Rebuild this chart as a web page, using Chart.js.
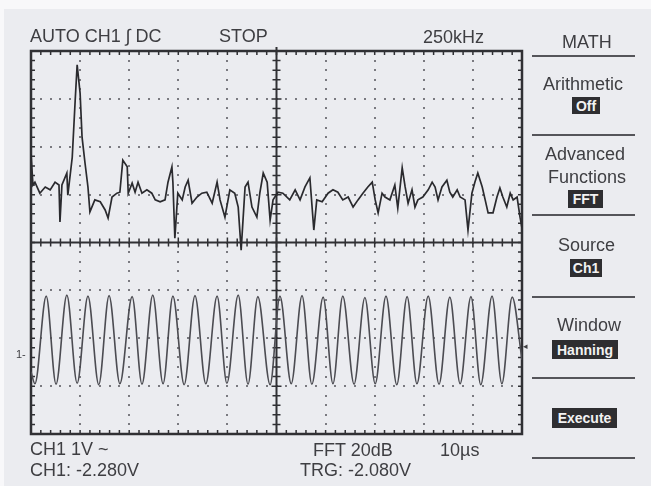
<!DOCTYPE html>
<html>
<head>
<meta charset="utf-8">
<script src="https://cdn.jsdelivr.net/npm/chart.js@4.4.1/dist/chart.umd.min.js"></script>
<style>
  html, body { margin: 0; padding: 0; background: #f8f8fa; overflow: hidden; }
  #screen { position: absolute; left: 4px; top: 9px; width: 647px; height: 477px; background: #ebecf0; }
  #scope { position: absolute; left: 0; top: 0; }
  .t {
    position: absolute; white-space: nowrap; line-height: 1;
    font-family: "Liberation Sans", "DejaVu Sans", sans-serif;
    color: #3e3e42; transform-origin: 0 0;
  }
  .inv {
    position: absolute; background: #2e2e31; color: #f2f2f2;
    font-family: "Liberation Sans", "DejaVu Sans", sans-serif;
    font-weight: bold; font-size: 14px; line-height: 1;
    display: flex; align-items: center; justify-content: center;
  }
  .rule { position: absolute; left: 532px; width: 103px; height: 2px; background: #55555a; }
</style>
</head>
<body>
<div id="screen"></div>
<canvas id="scope" width="651" height="486"></canvas>

<!-- status line -->
<div class="t" style="left:30px;top:27px;font-size:18px" data-w="135">AUTO CH1 ∫ DC</div>
<div class="t" style="left:219px;top:27px;font-size:18px" data-w="46">STOP</div>
<div class="t" style="left:423px;top:28px;font-size:18px" data-w="57">250kHz</div>

<!-- bottom readouts -->
<div class="t" style="left:30px;top:440px;font-size:18px" data-w="78">CH1 1V ~</div>
<div class="t" style="left:30px;top:461px;font-size:18px" data-w="108">CH1: -2.280V</div>
<div class="t" style="left:313px;top:441px;font-size:18px" data-w="75">FFT 20dB</div>
<div class="t" style="left:440px;top:441px;font-size:18px" data-w="37">10µs</div>
<div class="t" style="left:300px;top:461px;font-size:18px" data-w="107">TRG: -2.080V</div>

<!-- channel markers -->
<div class="t" style="left:16px;top:349px;font-size:11px">1-</div>
<div class="t" style="left:523px;top:342px;font-size:9px">◂</div>

<!-- MATH menu -->
<div class="t" style="left:562px;top:33px;font-size:18px" data-w="51">MATH</div>
<div class="rule" style="top:55px"></div>
<div class="t" style="left:543px;top:75px;font-size:18px" data-w="87">Arithmetic</div>
<div class="inv" style="left:572px;top:97px;width:28px;height:17px">Off</div>
<div class="rule" style="top:134px"></div>
<div class="t" style="left:545px;top:145px;font-size:18px" data-w="80">Advanced</div>
<div class="t" style="left:548px;top:168px;font-size:18px" data-w="77">Functions</div>
<div class="inv" style="left:568px;top:190px;width:35px;height:18px">FFT</div>
<div class="rule" style="top:214px"></div>
<div class="t" style="left:558px;top:236px;font-size:18px" data-w="55">Source</div>
<div class="inv" style="left:570px;top:259px;width:32px;height:18px">Ch1</div>
<div class="rule" style="top:296px"></div>
<div class="t" style="left:557px;top:316px;font-size:18px" data-w="56">Window</div>
<div class="inv" style="left:552px;top:340px;width:66px;height:19px">Hanning</div>
<div class="rule" style="top:377px"></div>
<div class="inv" style="left:552px;top:408px;width:65px;height:20px">Execute</div>
<div class="rule" style="top:457px"></div>

<script>
// FFT trace (x in divisions, y in divisions above centre)
const fftX = [0, 0.04, 0.08, 0.18, 0.29, 0.39, 0.49, 0.57, 0.59, 0.63, 0.73, 0.75, 0.84, 0.90, 0.94, 1.00,
  1.04, 1.10, 1.16, 1.20, 1.30, 1.41, 1.51, 1.57, 1.65, 1.75, 1.81, 1.87, 1.96, 1.98, 2.06, 2.12,
  2.18, 2.26, 2.36, 2.46, 2.53, 2.63, 2.73, 2.79, 2.87, 2.89, 2.93, 2.99, 3.08, 3.14, 3.20, 3.28,
  3.38, 3.48, 3.58, 3.69, 3.79, 3.85, 3.95, 4.05, 4.15, 4.22, 4.28, 4.36, 4.42, 4.50, 4.60, 4.66,
  4.73, 4.81, 4.87, 4.93, 5.03, 5.13, 5.27, 5.38, 5.48, 5.58, 5.68, 5.76, 5.82, 5.93, 6.05, 6.15,
  6.25, 6.35, 6.46, 6.56, 6.66, 6.76, 6.86, 6.95, 7.01, 7.07, 7.15, 7.21, 7.31, 7.41, 7.47, 7.56,
  7.62, 7.68, 7.76, 7.82, 7.88, 7.98, 8.09, 8.17, 8.23, 8.29, 8.37, 8.47, 8.53, 8.59, 8.68, 8.74,
  8.84, 8.90, 8.98, 9.04, 9.10, 9.19, 9.25, 9.31, 9.41, 9.49, 9.55, 9.61, 9.69, 9.76, 9.82, 9.90,
  9.96, 10.0];
const fftY = [1.85, 1.20, 1.26, 1.03, 1.16, 1.10, 1.26, 1.20, 0.43, 1.20, 1.45, 0.99, 1.78, 2.97, 3.71, 3.12,
  2.20, 1.66, 1.16, 0.64, 0.89, 0.85, 0.68, 0.51, 0.95, 1.03, 1.05, 1.72, 1.58, 1.03, 1.24, 1.05,
  1.26, 1.03, 1.10, 1.03, 0.89, 0.85, 0.89, 1.26, 1.58, 1.26, 0.09, 1.03, 0.89, 1.16, 1.30, 0.82,
  0.95, 1.03, 1.05, 0.82, 1.26, 0.89, 0.53, 1.10, 1.03, 0.74, -0.16, 1.16, 1.26, 0.74, 0.53, 1.03,
  1.45, 1.26, 0.47, 0.89, 1.05, 1.03, 0.89, 1.10, 0.89, 1.16, 1.35, 0.26, 0.89, 0.85, 1.03, 1.10,
  1.05, 0.89, 0.95, 0.74, 0.89, 1.03, 1.16, 1.26, 0.89, 0.62, 1.03, 0.95, 0.89, 1.20, 0.72, 1.56,
  1.16, 0.82, 1.10, 0.74, 0.89, 0.95, 1.10, 1.26, 1.16, 0.89, 1.16, 1.30, 1.05, 0.95, 1.10, 0.95,
  0.89, 0.26, 1.03, 1.26, 1.45, 1.16, 0.89, 0.62, 0.62, 0.95, 1.14, 0.95, 0.74, 1.03, 0.89, 0.95,
  0.53, 0.30];

// CH1 time trace: start, each trough / crest, end
const ch1X = [0, 0.08, 0.31, 0.51, 0.73, 0.94, 1.16, 1.38, 1.59, 1.81, 2.06, 2.26, 2.48, 2.69, 2.89,
  3.12, 3.34, 3.56, 3.79, 3.99, 4.22, 4.42, 4.62, 4.87, 5.07, 5.30, 5.52, 5.72, 5.95, 6.15, 6.35,
  6.58, 6.80, 7.01, 7.23, 7.45, 7.66, 7.86, 8.09, 8.31, 8.53, 8.74, 8.96, 9.16, 9.39, 9.59, 9.80, 10.0];
const ch1Y = [-2.70, -2.95, -1.12, -2.96, -1.10, -2.94, -1.12, -2.97, -1.11, -2.95, -1.13, -2.96, -1.10,
  -2.95, -1.12, -2.97, -1.11, -2.95, -1.12, -2.94, -1.10, -2.96, -1.13, -2.97, -1.12, -2.95, -1.11,
  -2.96, -1.14, -2.95, -1.12, -2.96, -1.15, -2.95, -1.12, -2.97, -1.13, -2.95, -1.12, -2.96, -1.14,
  -2.95, -1.13, -2.97, -1.12, -2.95, -1.14, -2.45];

const DIV_X = 10;
const DIV_Y = 4;
const MINOR = 5;

const GRID_DOT = "#7a7a80";
const FRAME = "#303034";

const graticule = {
  id: "graticule",
  beforeDatasetsDraw(chart) {
    const { ctx, chartArea: a, scales: { x, y } } = chart;
    ctx.save();

    // dotted division lines
    ctx.fillStyle = GRID_DOT;
    for (let i = 1; i < DIV_X; i += 1) {
      if (i === DIV_X / 2) continue;
      const px = x.getPixelForValue(i);
      for (let j = -DIV_Y * MINOR; j <= DIV_Y * MINOR; j += 1) {
        const py = y.getPixelForValue(j / MINOR);
        ctx.fillRect(Math.round(px) - 1, Math.round(py) - 1, 2, 2);
      }
    }
    for (let j = -DIV_Y + 1; j < DIV_Y; j += 1) {
      if (j === 0) continue;
      const py = y.getPixelForValue(j);
      for (let i = 0; i <= DIV_X * MINOR; i += 1) {
        const px = x.getPixelForValue(i / MINOR);
        ctx.fillRect(Math.round(px) - 1, Math.round(py) - 1, 2, 2);
      }
    }

    // centre cross
    const cx = x.getPixelForValue(DIV_X / 2);
    const cy = y.getPixelForValue(0);
    ctx.strokeStyle = FRAME;
    ctx.lineWidth = 2;
    ctx.beginPath();
    ctx.moveTo(a.left, cy);
    ctx.lineTo(a.right, cy);
    ctx.moveTo(cx, a.top - 4);
    ctx.lineTo(cx, a.bottom);
    ctx.stroke();

    // ticks on centre cross and frame
    ctx.lineWidth = 1.5;
    ctx.beginPath();
    for (let i = 1; i < DIV_X * MINOR; i += 1) {
      const px = x.getPixelForValue(i / MINOR);
      const len = i % MINOR === 0 ? 5 : 4;
      ctx.moveTo(px, cy - len);
      ctx.lineTo(px, cy + len);
      ctx.moveTo(px, a.top);
      ctx.lineTo(px, a.top + 4);
      ctx.moveTo(px, a.bottom);
      ctx.lineTo(px, a.bottom - 4);
    }
    for (let j = -DIV_Y * MINOR + 1; j < DIV_Y * MINOR; j += 1) {
      const py = y.getPixelForValue(j / MINOR);
      const len = j % MINOR === 0 ? 5 : 4;
      ctx.moveTo(cx - len, py);
      ctx.lineTo(cx + len, py);
      ctx.moveTo(a.left, py);
      ctx.lineTo(a.left + 4, py);
      ctx.moveTo(a.right, py);
      ctx.lineTo(a.right - 4, py);
    }
    ctx.stroke();

    // frame
    ctx.lineWidth = 2.5;
    ctx.strokeRect(a.left, a.top, a.right - a.left, a.bottom - a.top);
    ctx.restore();
  },
};

new Chart(document.getElementById("scope"), {
  type: "line",
  data: {
    datasets: [
      {
        label: "FFT",
        data: fftX.map((v, i) => ({ x: v, y: fftY[i] })),
        borderColor: "#2a2a2e",
        borderWidth: 1.7,
        pointRadius: 0,
        tension: 0,
      },
      {
        label: "CH1",
        data: ch1X.map((v, i) => ({ x: v, y: ch1Y[i] })),
        borderColor: "#4c4c52",
        borderWidth: 1.6,
        pointRadius: 0,
        cubicInterpolationMode: "monotone",
      },
    ],
  },
  options: {
    responsive: false,
    animation: false,
    layout: { padding: { left: 31, top: 51, right: 129, bottom: 52 } },
    scales: {
      x: { type: "linear", min: 0, max: DIV_X, display: false },
      y: { type: "linear", min: -DIV_Y, max: DIV_Y, display: false },
    },
    plugins: {
      legend: { display: false },
      tooltip: { enabled: false },
    },
  },
  plugins: [graticule],
});

// squeeze the readouts to the widths seen on the screen
function fitLabels() {
  document.querySelectorAll(".t[data-w]").forEach((el) => {
    const w = el.getBoundingClientRect().width;
    if (w > 0) el.style.transform = `scaleX(${(+el.dataset.w / w).toFixed(3)})`;
  });
}
fitLabels();
if (document.fonts) document.fonts.ready.then(fitLabels);
</script>
</body>
</html>
